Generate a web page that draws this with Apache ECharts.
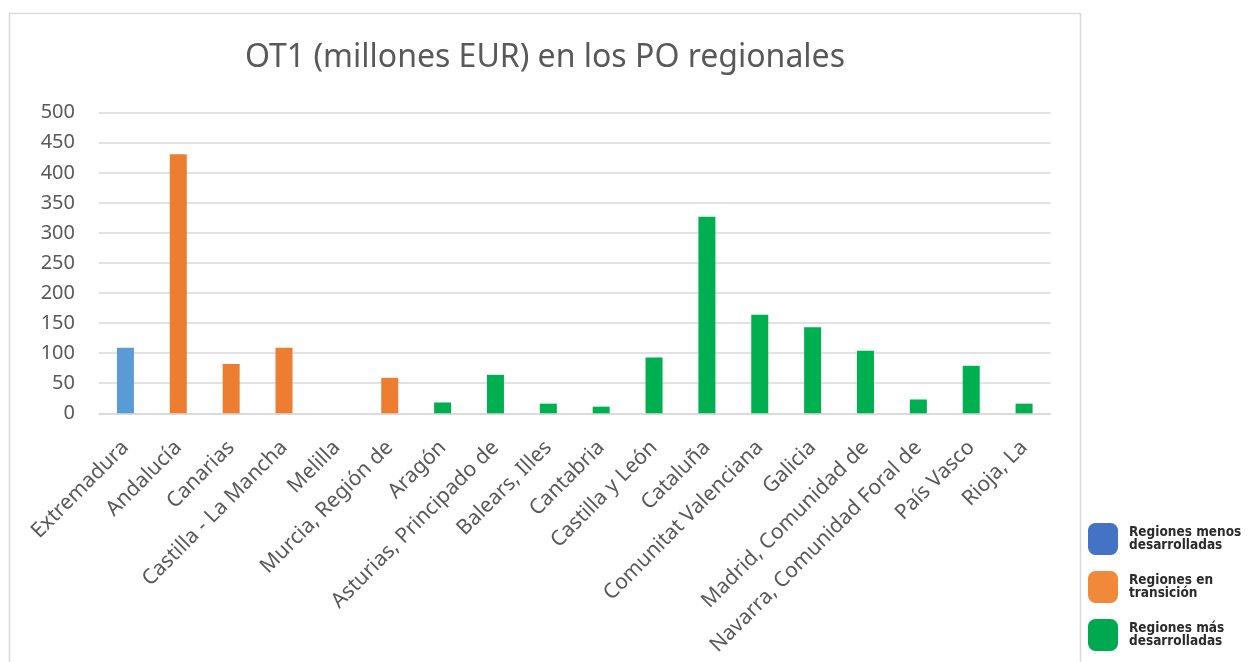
<!DOCTYPE html>
<html>
<head>
<meta charset="utf-8">
<script src="https://cdn.jsdelivr.net/npm/echarts@6/dist/echarts.min.js"></script>
<style>
html,body{margin:0;padding:0;background:#fff;}
#chart{width:1248px;height:662px;}
</style>
</head>
<body>
<div id="chart"></div>
<script>
var categories = ['Extremadura','Andalucía','Canarias','Castilla - La Mancha','Melilla','Murcia, Región de','Aragón','Asturias, Principado de','Balears, Illes','Cantabria','Castilla y León','Cataluña','Comunitat Valenciana','Galicia','Madrid, Comunidad de','Navarra, Comunidad Foral de','País Vasco','Rioja, La'];
var menosDesarrolladas = [109, null, null, null, null, null, null, null, null, null, null, null, null, null, null, null, null, null];
var enTransicion = [null, 431, 82, 109, 0, 59, null, null, null, null, null, null, null, null, null, null, null, null];
var masDesarrolladas = [null, null, null, null, null, null, 18, 64, 16, 11, 93, 327, 164, 143, 104, 23, 79, 16];
var yTicks = [0, 50, 100, 150, 200, 250, 300, 350, 400, 450, 500];
var seriesNames = ['Regiones menos desarrolladas', 'Regiones en transición', 'Regiones más desarrolladas'];
var legendLabels = ['Regiones menos\ndesarrolladas', 'Regiones en\ntransición', 'Regiones más\ndesarrolladas'];

var barColors = ['#5B9BD5', '#ED7D31', '#00B050'];
var legendColors = ['#4472C4', '#F08A3A', '#00A94F'];
var font = "'Noto Sans', 'Open Sans', sans-serif";

var chart = echarts.init(document.getElementById('chart'));
var seriesData = [menosDesarrolladas, enTransicion, masDesarrolladas];
var series = seriesData.map(function (d, i) {
  return {
    name: seriesNames[i],
    type: 'bar',
    stack: 'total',
    barWidth: 17,
    data: d,
    itemStyle: { color: barColors[i] }
  };
});

chart.setOption({
  animation: false,
  backgroundColor: '#fff',
  graphic: [{
    type: 'rect',
    shape: { x: 9.5, y: 13.5, width: 1071, height: 700 },
    style: { fill: 'none', stroke: '#d9d9d9', lineWidth: 1.5 },
    z: -10
  }],
  title: {
    text: 'OT1 (millones EUR) en los PO regionales',
    left: 540,
    textAlign: 'center',
    top: 37,
    textStyle: { fontFamily: font, fontSize: 32, fontWeight: 'normal', color: '#595959' }
  },
  legend: {
    orient: 'vertical',
    left: 1083,
    top: 518,
    itemWidth: 30,
    itemHeight: 32,
    itemGap: 16,
    icon: 'roundRect',
    selectedMode: false,
    data: seriesNames.map(function (n, i) {
      return { name: n, itemStyle: { color: legendColors[i] } };
    }),
    formatter: function (name) { return legendLabels[seriesNames.indexOf(name)]; },
    textStyle: {
      fontFamily: "'Liberation Sans Narrow', 'DejaVu Sans Condensed', sans-serif",
      fontSize: 13.5,
      fontWeight: 'bold',
      lineHeight: 13,
      color: '#2b2b2b',
      padding: [0, 0, 0, 6]
    }
  },
  grid: { left: 99, right: 197.5, top: 112.7, bottom: 248.7, containLabel: false },
  xAxis: {
    type: 'category',
    data: categories,
    axisLine: { lineStyle: { color: '#d9d9d9', width: 1.5 } },
    axisTick: { show: false },
    axisLabel: {
      interval: 0,
      rotate: 45,
      margin: 31,
      fontFamily: font,
      fontSize: 21,
      color: '#595959'
    }
  },
  yAxis: {
    type: 'value',
    min: yTicks[0],
    max: yTicks[yTicks.length - 1],
    interval: 50,
    axisLine: { show: false },
    axisTick: { show: false },
    splitLine: { lineStyle: { color: '#d9d9d9', width: 1.5 } },
    axisLabel: {
      margin: 24,
      fontFamily: font,
      fontSize: 20,
      color: '#595959'
    }
  },
  series: series
});
</script>
</body>
</html>
